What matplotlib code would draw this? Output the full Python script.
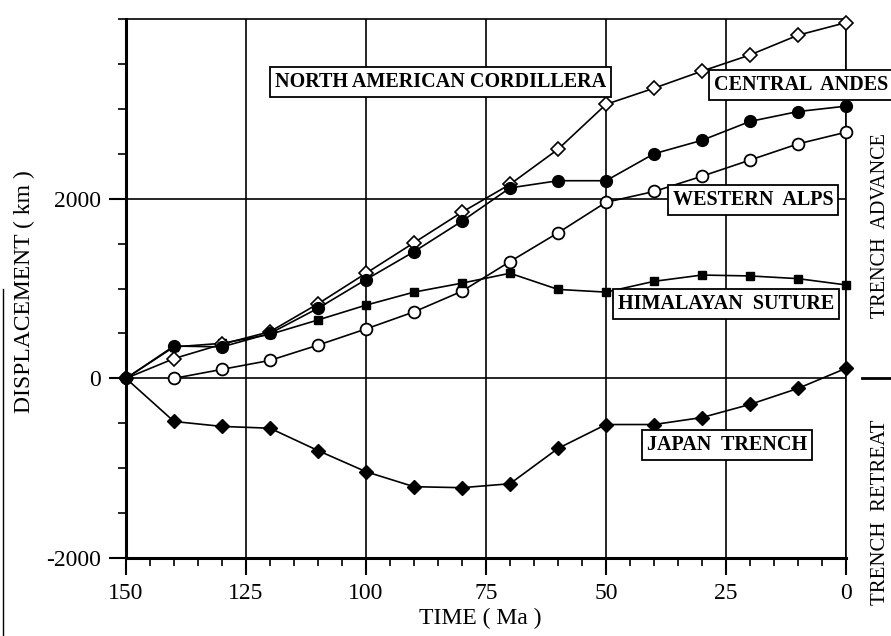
import numpy as np
import matplotlib.pyplot as plt
from matplotlib.ticker import MultipleLocator
from matplotlib.lines import Line2D

plt.rcParams['font.family'] = ['Liberation Serif', 'DejaVu Serif']
plt.rcParams['axes.unicode_minus'] = False

# Datos (tiempo en Ma, desplazamiento en km)
time = [150, 140, 130, 120, 110, 100, 90, 80, 70, 60, 50, 40, 30, 20, 10, 0]
time_wa = [140, 130, 120, 110, 100, 90, 80, 70, 60, 50, 40, 30, 20, 10, 0]

north_american = [0, 220, 380, 520, 830, 1170, 1510, 1850, 2160, 2550,
                  3050, 3230, 3420, 3600, 3820, 3960]
central_andes = [0, 360, 350, 500, 780, 1100, 1410, 1750, 2120, 2200,
                 2200, 2500, 2650, 2860, 2970, 3030]
western_alps = [0, 100, 200, 370, 550, 740, 970, 1300, 1620,
                1960, 2080, 2250, 2430, 2610, 2740]
himalayan = [0, 350, 390, 490, 650, 815, 960, 1060, 1170, 990,
             960, 1080, 1150, 1140, 1110, 1040]
japan = [0, -480, -535, -555, -804, -1039, -1206, -1217, -1173, -780,
         -514, -514, -436, -290, -112, 112]

fig = plt.figure(figsize=(8.91, 6.36), dpi=100)
ax = fig.add_axes([0.1414, 0.1226, 0.8081, 0.8475])

lw = 1.2
kw = dict(color='black', linewidth=lw, clip_on=False)

ax.plot(time, japan, marker='D', markersize=7, markerfacecolor='black',
        markeredgecolor='black', zorder=5, **kw)
ax.plot(time_wa, western_alps, marker='o', markersize=8.5, markerfacecolor='white',
        markeredgecolor='black', markeredgewidth=1.3, zorder=5, **kw)
ax.plot(time, himalayan, marker='s', markersize=5.5, markerfacecolor='black',
        markeredgecolor='black', zorder=5, **kw)
ax.plot(time, north_american, marker='D', markersize=7, markerfacecolor='white',
        markeredgecolor='black', markeredgewidth=1.2, zorder=6, **kw)
ax.plot(time, central_andes, marker='o', markersize=8.5, markerfacecolor='black',
        markeredgecolor='black', zorder=6, **kw)

ax.set_xlim(150, 0)
ax.set_ylim(-2000, 4000)

ax.xaxis.set_major_locator(MultipleLocator(25))
ax.xaxis.set_minor_locator(MultipleLocator(5))
ax.yaxis.set_major_locator(MultipleLocator(2000))
ax.yaxis.set_minor_locator(MultipleLocator(500))
ax.set_yticks([-2000, 0, 2000])
ax.tick_params(which='major', direction='out', length=12, width=1.5, labelsize=17, pad=6)
ax.tick_params(which='minor', direction='out', length=6, width=1.2)
ax.tick_params(axis='x', which='both', top=False)
ax.tick_params(axis='y', which='both', right=False)

ax.grid(True, which='major', color='black', linewidth=1.2)
ax.set_axisbelow(True)

for side in ['left', 'bottom']:
    ax.spines[side].set_linewidth(2.2)
for side in ['top', 'right']:
    ax.spines[side].set_linewidth(1.2)

# Etiquetas en cajas
box = dict(boxstyle='square,pad=0.25', facecolor='white', edgecolor='black', linewidth=1.3)
labels = [
    ('NORTH AMERICAN CORDILLERA', 84.4, 3295),
    ('CENTRAL  ANDES', 9.4, 3262),
    ('WESTERN  ALPS', 19.4, 1988),
    ('HIMALAYAN  SUTURE', 25.0, 827),
    ('JAPAN  TRENCH', 24.8, -737),
]
for txt, x, y in labels:
    ax.text(x, y, txt, ha='center', va='center', fontsize=14.5, fontweight='bold',
            bbox=box, zorder=10, clip_on=False)

fig.text(0.028, 0.542, 'DISPLACEMENT ( km )', rotation=90, ha='center', va='center',
         fontsize=17)
fig.text(0.539, 0.028, 'TIME ( Ma )', ha='center', va='center', fontsize=17)

fig.text(0.988, 0.645, 'TRENCH  ADVANCE', rotation=90, ha='center', va='center',
         fontsize=14.5)
fig.text(0.988, 0.194, 'TRENCH  RETREAT', rotation=90, ha='center', va='center',
         fontsize=15)
fig.add_artist(Line2D([0.967, 0.999], [0.406, 0.406], color='black', linewidth=2,
                      transform=fig.transFigure))
fig.add_artist(Line2D([0.003, 0.003], [0.0, 0.545], color='black', linewidth=1,
                      transform=fig.transFigure))

plt.savefig('out.png', dpi=100)
